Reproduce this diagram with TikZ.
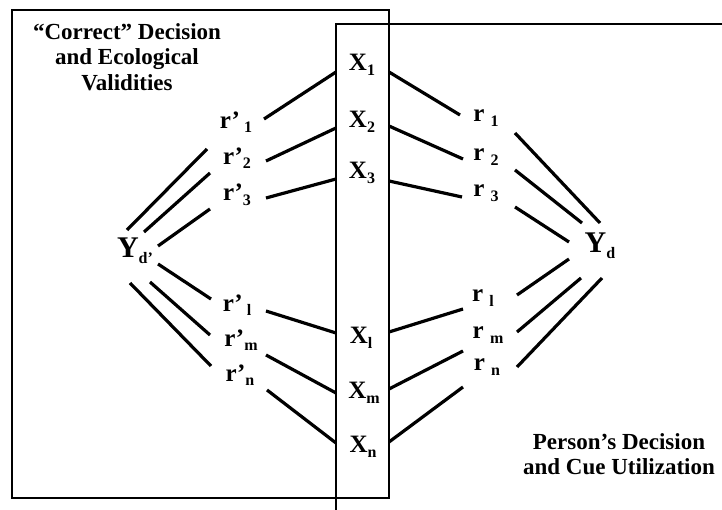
\documentclass[tikz,border=0pt]{standalone}
\usepackage{fontspec}
\setmainfont{Liberation Serif}
\newcommand\lsub[1]{\raisebox{-0.4ex}{\fontsize{16}{16}\selectfont #1}}
\begin{document}
\begin{tikzpicture}[x=1pt,y=-1pt,
  lbl/.style={font=\bfseries\fontsize{25}{29}\selectfont, inner sep=0pt},
  ylbl/.style={font=\bfseries\fontsize{30}{34}\selectfont, inner sep=0pt},
  caption/.style={font=\bfseries\fontsize{23}{25.5}\selectfont, align=center, inner sep=0pt},
  frame/.style={line width=1.2pt},
  link/.style={line width=3.2pt}]
\useasboundingbox (0,0) rectangle (722,510);

% the two overlapping frames
\draw[frame] (12,10) rectangle (389,498);
\draw[frame] (722,24) -- (336,24) -- (336,510);

% captions
\node[caption] (ecol) at (127,57) {“Correct” Decision\\and Ecological\\Validities};
\node[caption] (pers) at (619,454) {Person’s Decision\\and Cue Utilization};

% cues
\node[lbl] (x1) at (362,65) {X\lsub{1}};
\node[lbl] (x2) at (362,122) {X\lsub{2}};
\node[lbl] (x3) at (362,173) {X\lsub{3}};
\node[lbl] (xl) at (361,338) {X\lsub{l}};
\node[lbl] (xm) at (364,393) {X\lsub{m}};
\node[lbl] (xn) at (363,447) {X\lsub{n}};

% ecological validities
\node[lbl] (v1) at (236,122) {r’\,\lsub{1}};
\node[lbl] (v2) at (237,158) {r’\lsub{2}};
\node[lbl] (v3) at (237,195) {r’\lsub{3}};
\node[lbl] (vl) at (237,305) {r’\,\lsub{l}};
\node[lbl] (vm) at (241,340) {r’\lsub{m}};
\node[lbl] (vn) at (240,375) {r’\lsub{n}};

% cue utilizations
\node[lbl] (u1) at (486,118) {r \lsub{1}};
\node[lbl] (u2) at (486,157) {r \lsub{2}};
\node[lbl] (u3) at (486,193) {r \lsub{3}};
\node[lbl] (ul) at (483,298) {r \lsub{l}};
\node[lbl] (um) at (488,335) {r \lsub{m}};
\node[lbl] (un) at (487,367) {r \lsub{n}};

% criterion and judgment
\node[ylbl] (yc) at (135,251) {Y\lsub{d’}};
\node[ylbl] (yj) at (600,246) {Y\lsub{d}};

% line end points
\coordinate (x1w) at (336,72);  \coordinate (x1e) at (389,72);
\coordinate (x2w) at (336,128); \coordinate (x2e) at (389,126);
\coordinate (x3w) at (336,179); \coordinate (x3e) at (389,181);
\coordinate (xlw) at (336,333); \coordinate (xle) at (389,332);
\coordinate (xmw) at (336,393); \coordinate (xme) at (389,389);
\coordinate (xnw) at (336,443); \coordinate (xne) at (389,442);

\coordinate (v1e) at (264,119); \coordinate (v2e) at (266,161);
\coordinate (v3e) at (266,198); \coordinate (vle) at (266,311);
\coordinate (vme) at (266,355); \coordinate (vne) at (267,390);

\coordinate (u1w) at (460,115); \coordinate (u2w) at (463,159);
\coordinate (u3w) at (462,197); \coordinate (ulw) at (463,309);
\coordinate (umw) at (463,351); \coordinate (unw) at (463,387);

% cue links, left side
\draw[link] (v1e) -- (x1w);
\draw[link] (v2e) -- (x2w);
\draw[link] (v3e) -- (x3w);
\draw[link] (vle) -- (xlw);
\draw[link] (vme) -- (xmw);
\draw[link] (vne) -- (xnw);

% cue links, right side
\draw[link] (x1e) -- (u1w);
\draw[link] (x2e) -- (u2w);
\draw[link] (x3e) -- (u3w);
\draw[link] (xle) -- (ulw);
\draw[link] (xme) -- (umw);
\draw[link] (xne) -- (unw);

% fan from the criterion
\coordinate (ca1) at (127,230); \coordinate (cb1) at (207,149);
\coordinate (ca2) at (144,232); \coordinate (cb2) at (210,173);
\coordinate (ca3) at (158,246); \coordinate (cb3) at (210,209);
\coordinate (ca4) at (158,264); \coordinate (cb4) at (211,299);
\coordinate (ca5) at (150,282); \coordinate (cb5) at (210,335);
\coordinate (ca6) at (130,283); \coordinate (cb6) at (211,366);
\foreach \i in {1,...,6} \draw[link] (ca\i) -- (cb\i);

% fan from the judgment
\coordinate (ja1) at (600,223); \coordinate (jb1) at (515,133);
\coordinate (ja2) at (582,223); \coordinate (jb2) at (515,170);
\coordinate (ja3) at (569,242); \coordinate (jb3) at (515,207);
\coordinate (ja4) at (569,259); \coordinate (jb4) at (517,295);
\coordinate (ja5) at (581,278); \coordinate (jb5) at (517,332);
\coordinate (ja6) at (602,278); \coordinate (jb6) at (517,367);
\foreach \i in {1,...,6} \draw[link] (ja\i) -- (jb\i);
\end{tikzpicture}
\end{document}
